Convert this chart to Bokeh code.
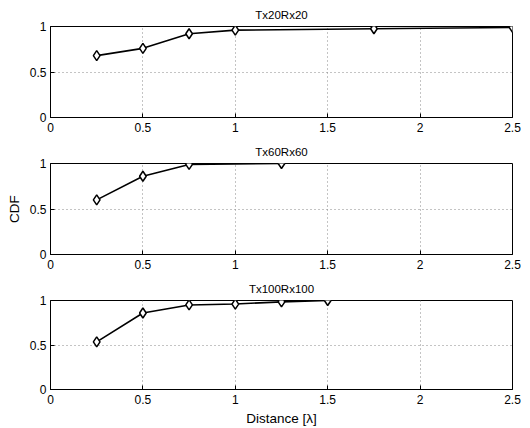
from bokeh.plotting import figure
from bokeh.layouts import column
from bokeh.models import Range1d, FixedTicker
from bokeh.embed import file_html
from bokeh.resources import INLINE

titles = ["Tx20Rx20", "Tx60Rx60", "Tx100Rx100"]
x_20 = [0.25, 0.5, 0.75, 1.0, 1.75, 2.5]
cdf_20 = [0.68, 0.76, 0.92, 0.96, 0.975, 0.99]
x_60 = [0.25, 0.5, 0.75, 1.25]
cdf_60 = [0.60, 0.86, 0.99, 1.0]
x_100 = [0.25, 0.5, 0.75, 1.0, 1.25, 1.5]
cdf_100 = [0.535, 0.86, 0.95, 0.96, 0.985, 1.0]
x_ticks = [0, 0.5, 1, 1.5, 2, 2.5]
y_ticks = [0, 0.5, 1]
x_label = "Distance [λ]"
y_label = "CDF"

FONT = "Liberation Sans"
series = [(x_20, cdf_20), (x_60, cdf_60), (x_100, cdf_100)]
heights = [137, 137, 154]
bottoms = [20, 20, 38]

figs = []
for i, (title, (xs, ys)) in enumerate(zip(titles, series)):
    p = figure(width=530, height=heights[i], output_backend="svg", toolbar_location=None,
               x_range=Range1d(0, 2.5), y_range=Range1d(0, 1),
               min_border_left=50, min_border_right=18, min_border_top=26,
               min_border_bottom=bottoms[i], title=title)
    p.title.align = "center"
    p.title.text_font = FONT
    p.title.text_font_size = "11.5px"
    p.title.text_font_style = "normal"
    p.title.text_color = "black"
    p.title.standoff = 11
    p.outline_line_color = "black"
    p.outline_line_width = 1
    p.background_fill_color = "white"
    p.border_fill_color = "white"
    for ax in (p.xaxis[0], p.yaxis[0]):
        ax.major_tick_in = 4
        ax.major_tick_out = 0
        ax.minor_tick_in = 0
        ax.minor_tick_out = 0
        ax.major_label_text_font = FONT
        ax.major_label_text_font_size = "12px"
        ax.major_label_text_color = "black"
        ax.axis_line_color = "black"
        ax.major_tick_line_color = "black"
    p.xaxis[0].major_label_standoff = 5
    p.yaxis[0].major_label_standoff = 4
    p.xaxis[0].ticker = FixedTicker(ticks=x_ticks)
    p.yaxis[0].ticker = FixedTicker(ticks=y_ticks)
    p.xaxis[0].major_label_overrides = {0: "0", 1: "1", 2: "2"}
    p.yaxis[0].major_label_overrides = {0: "0", 1: "1"}
    p.xgrid.ticker = FixedTicker(ticks=x_ticks)
    p.ygrid.ticker = FixedTicker(ticks=y_ticks)
    for g in (p.xgrid[0], p.ygrid[0]):
        g.grid_line_color = "#888888"
        g.grid_line_dash = "1 3"
        g.grid_line_width = 1
    if i == 1:
        p.yaxis[0].axis_label = y_label
        p.yaxis[0].axis_label_text_font = FONT
        p.yaxis[0].axis_label_text_font_size = "13.5px"
        p.yaxis[0].axis_label_text_font_style = "normal"
        p.yaxis[0].axis_label_text_color = "black"
        p.yaxis[0].axis_label_standoff = 5
    if i == 2:
        p.xaxis[0].axis_label = x_label
        p.xaxis[0].axis_label_text_font = FONT
        p.xaxis[0].axis_label_text_font_size = "13.5px"
        p.xaxis[0].axis_label_text_font_style = "normal"
        p.xaxis[0].axis_label_text_color = "black"
        p.xaxis[0].axis_label_standoff = 4
    p.line(xs, ys, line_color="black", line_width=1.6)
    p.scatter(xs, ys, marker="diamond", size=10, line_color="black", line_width=1.5,
              fill_color="white")
    figs.append(p)

layout = column(*figs, spacing=0)
open("out.html", "w").write(file_html(layout, INLINE))
